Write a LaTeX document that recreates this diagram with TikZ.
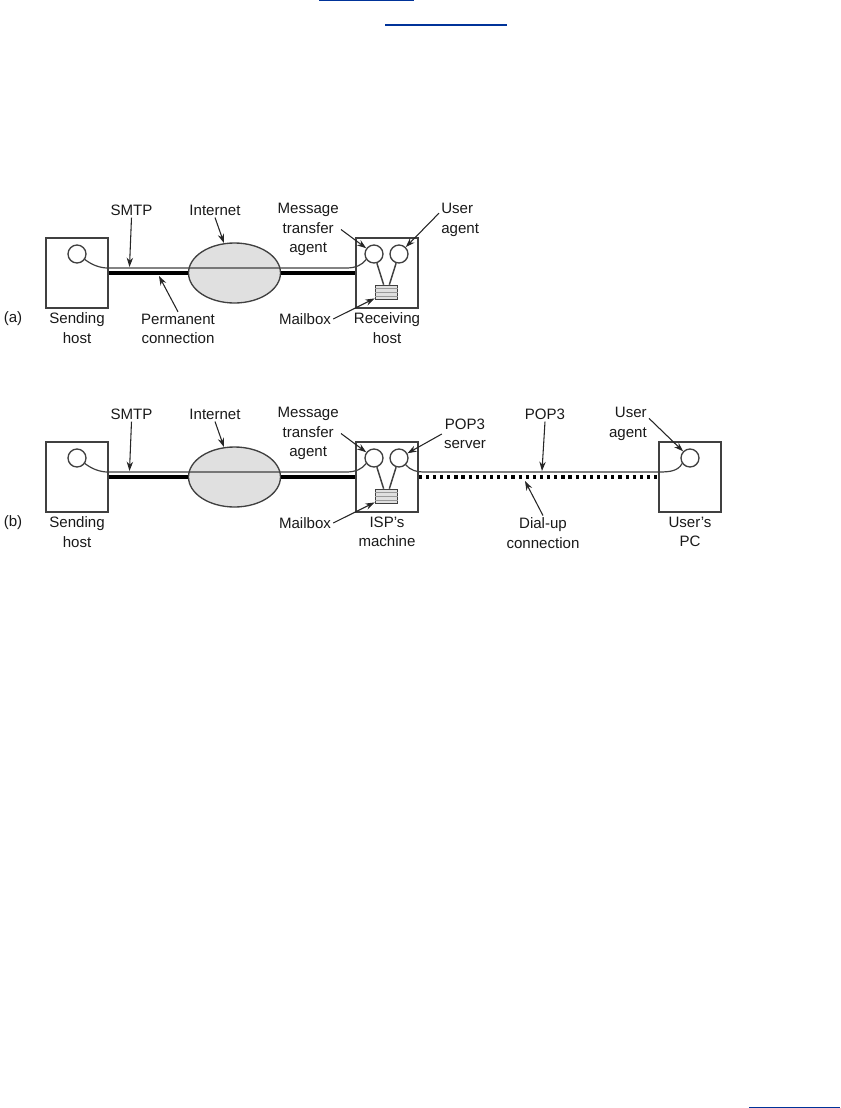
\documentclass[tikz,border=0pt]{standalone}
\usepackage{fontspec}
\setmainfont{Liberation Sans}
\usetikzlibrary{shapes,positioning,arrows.meta,calc}
\definecolor{inkgray}{HTML}{404040}
\definecolor{cloudgray}{HTML}{E0E0E0}
\definecolor{linkblue}{HTML}{003399}
\tikzset{
  lbl/.style={font=\fontsize{11.3}{14.5}\selectfont, align=center, text=black!90, inner sep=1.5pt},
  hostbox/.style={draw=inkgray, line width=1pt, minimum width=46.5pt, minimum height=52.5pt, inner sep=0pt},
  agent/.style={circle, draw=inkgray, line width=1pt, fill=white, minimum size=13.5pt, inner sep=0pt},
  mailbox/.style={draw=inkgray, line width=.8pt, fill=black!12, minimum width=17pt, minimum height=11pt, inner sep=0pt},
  cloud/.style={ellipse, draw=inkgray, line width=1pt, fill=cloudgray, minimum width=69pt, minimum height=45pt, inner sep=0pt},
  thinline/.style={draw=inkgray, line width=.9pt},
  thickline/.style={draw=black, line width=2.3pt},
  dotline/.style={draw=black, line width=2.4pt, dash pattern=on 2.4pt off 2.95pt},
  tag/.style={draw=black!85, line width=.8pt, -{Stealth[length=7pt,width=4.8pt]}},
  linkbar/.style={draw=linkblue, line width=1.5pt}
}
\begin{document}
\begin{tikzpicture}[x=.75pt,y=-.75pt]
  \useasboundingbox (0,0) rectangle (840,1108);
  % links of the page
  \draw[linkbar, line width=1pt] (319,.5) -- (414,.5);
  \draw[linkbar] (385,25) -- (507,25);
  \draw[linkbar, line width=1pt] (749,1107.3) -- (840,1107.3);

  % (a)
  \node[hostbox] (senda) at (77,273) {};
  \node[hostbox] (recva) at (387,273) {};
  \node[cloud] (neta) at (234.5,273) {};
  \node[agent] (srca) at (77,254) {};
  \node[agent] (mtaa) at (374,254) {};
  \node[agent] (uaa) at (399,254) {};
  \node[mailbox] (boxa) at (386.5,292.5) {};
  \foreach \f in {.25,.5,.75}
    \draw[white!60!black, line width=.5pt] ($(boxa.north west)!\f!(boxa.south west)$) -- ($(boxa.north east)!\f!(boxa.south east)$);
  \coordinate (inla) at (108,268);
  \coordinate (outla) at (346,268);
  \coordinate (smtptipa) at (129.5,267);
  \coordinate (permtipa) at (159,276);
  \draw[thickline] (senda.east) -- (neta.west);
  \draw[thickline] (neta.east) -- (recva.west);
  \draw[thinline] (srca.-35) .. controls (92,265) and (100,268) .. (inla) -- (outla) .. controls (356,268) and (362,265) .. (mtaa.-145);
  \draw[thinline, line width=1.1pt] (mtaa) -- (boxa.110);
  \draw[thinline, line width=1.1pt] (uaa) -- (boxa.70);
  \node[lbl] (smtpa) at (131.5,210) {SMTP};
  \node[lbl] (inta) at (215,210) {Internet};
  \node[lbl, anchor=east] (mtala) at (341,229.5) {Message\\transfer\\agent};
  \node[lbl, align=left, anchor=west] (uala) at (439,220) {User\\agent};
  \node[lbl] (permla) at (178,329) {Permanent\\connection};
  \node[lbl] (mbla) at (305,319) {Mailbox};
  \node[lbl, below=1.5pt of senda] (sendla) {Sending\\host};
  \node[lbl, below=1.5pt of recva] (recvla) {Receiving\\host};
  \node[lbl] (taga) at (13,319) {(a)};
  \draw[tag] (smtpa.south) -- (smtptipa);
  \draw[tag] (inta.south) -- (neta);
  \draw[tag] (mtala.east) -- (mtaa);
  \draw[tag] (uala.162) -- (uaa);
  \draw[tag] (permla.north) -- (permtipa);
  \draw[tag] (mbla.east) -- (boxa);

  % (b)
  \node[hostbox] (sendb) at (77,477) {};
  \node[hostbox] (ispb) at (387,477) {};
  \node[hostbox] (pcb) at (690,477) {};
  \node[cloud] (netb) at (234.5,477) {};
  \node[agent] (srcb) at (77,458) {};
  \node[agent] (mtab) at (374,458) {};
  \node[agent] (popb) at (399,458) {};
  \node[agent] (uab) at (690,458) {};
  \node[mailbox] (boxb) at (386.5,496.5) {};
  \foreach \f in {.25,.5,.75}
    \draw[white!60!black, line width=.5pt] ($(boxb.north west)!\f!(boxb.south west)$) -- ($(boxb.north east)!\f!(boxb.south east)$);
  \coordinate (inlb) at (108,472);
  \coordinate (outlb) at (346,472);
  \coordinate (poplb) at (425,472);
  \coordinate (pclb) at (659,472);
  \coordinate (smtptipb) at (129.5,471);
  \coordinate (poptipb) at (542,471);
  \coordinate (dialtipb) at (525,481);
  \draw[thickline] (sendb.east) -- (netb.west);
  \draw[thickline] (netb.east) -- (ispb.west);
  \draw[dotline] (ispb.east) -- (pcb.west);
  \draw[thinline] (srcb.-35) .. controls (92,469) and (100,472) .. (inlb) -- (outlb) .. controls (356,472) and (362,469) .. (mtab.-145);
  \draw[thinline] (popb.-45) .. controls (410,470) and (416,472) .. (poplb) -- (pclb) .. controls (670,472) and (678,471) .. (uab.-145);
  \draw[thinline, line width=1.1pt] (mtab) -- (boxb.110);
  \draw[thinline, line width=1.1pt] (popb) -- (boxb.70);
  \node[lbl] (smtpb) at (131.5,414) {SMTP};
  \node[lbl] (intb) at (215,414) {Internet};
  \node[lbl, anchor=east] (mtalb) at (341,433.5) {Message\\transfer\\agent};
  \node[lbl] (poplab) at (465,434) {POP3\\server};
  \node[lbl] (popcb) at (545,414) {POP3};
  \node[lbl, align=right, anchor=east] (ualb) at (649,424) {User\\agent};
  \node[lbl] (dialb) at (543,533) {Dial-up\\connection};
  \node[lbl] (mblb) at (305,523) {Mailbox};
  \node[lbl, below=1.5pt of sendb] (sendlb) {Sending\\host};
  \node[lbl, below=1.5pt of ispb] (isplb) {ISP's\\machine};
  \node[lbl, below=1.5pt of pcb] (pclab) {User's\\PC};
  \node[lbl] (tagb) at (13,523) {(b)};
  \draw[tag] (smtpb.south) -- (smtptipb);
  \draw[tag] (intb.south) -- (netb);
  \draw[tag] (mtalb.east) -- (mtab);
  \draw[tag] (poplab.west) -- (popb);
  \draw[tag] (popcb.south) -- (poptipb);
  \draw[tag] (ualb.15) -- (uab);
  \draw[tag] (dialb.north) -- (dialtipb);
  \draw[tag] (mblb.east) -- (boxb);
\end{tikzpicture}
\end{document}
